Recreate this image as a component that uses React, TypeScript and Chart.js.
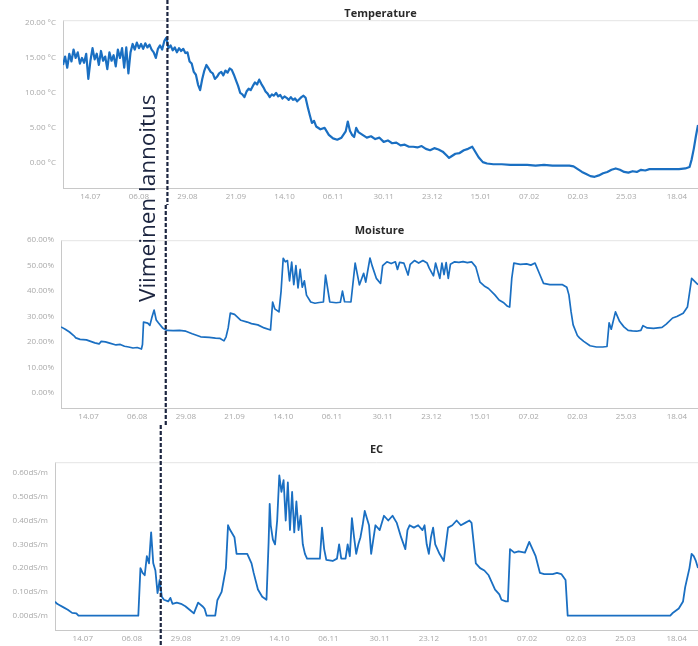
import React, { useEffect, useRef } from 'react';
import { Chart, registerables } from 'chart.js';

Chart.register(...registerables);

// x axis: days since 01.07
const tickDays = [13, 36, 59, 82, 105, 128, 152, 175, 198, 221, 244, 267, 291];
const tickLabels = ['14.07', '06.08', '29.08', '21.09', '14.10', '06.11', '30.11', '23.12', '15.01', '07.02', '02.03', '25.03', '18.04'];
const dayMin = 0;
const dayMax = 301;

const markerDay = 49.5;
const markerLabel = 'Viimeinen lannoitus';

const tempTicks = [0, 5, 10, 15, 20];
const moistureTicks = [0, 10, 20, 30, 40, 50, 60];
const ecTicks = [0, 0.1, 0.2, 0.3, 0.4, 0.5, 0.6];

const tempDays = [
  0, 1, 2, 3, 4, 5, 6, 7, 8, 9,
  10, 11, 12, 13, 14, 15, 16, 17, 18, 19,
  20, 21, 22, 23, 24, 25, 26, 27, 28, 29,
  30, 31, 32, 33, 34, 35, 36, 37, 38, 39,
  40, 41, 42, 43, 44, 45, 46, 47, 48, 49,
  50, 51, 52, 53, 54, 55, 56, 57, 58, 59,
  60, 61, 62, 63, 64, 65, 66, 67, 68, 69,
  70, 71, 72, 73, 74, 75, 76, 77, 78, 79,
  80, 81, 82, 83, 84, 85, 86, 87, 88, 89,
  90, 91, 92, 93, 94, 95, 96, 97, 98, 99,
  100, 101, 102, 103, 104, 105, 106, 107, 108, 109,
  110, 111, 112, 113, 114, 115, 116, 117, 118, 119,
  120, 122, 124, 126, 128, 130, 132, 134, 135, 136,
  137, 138, 139, 140, 142, 144, 146, 148, 150, 152,
  154, 156, 158, 160, 162, 164, 166, 168, 170, 172,
  174, 176, 178, 180, 182, 183, 184, 186, 188, 190,
  192, 194, 195, 197, 199, 201, 204, 208, 212, 216,
  220, 224, 228, 232, 236, 240, 242, 244, 246, 248,
  250, 252, 254, 256, 258, 260, 262, 264, 266, 268,
  270, 272, 274, 276, 278, 280, 284, 288, 292, 295,
  297, 298, 299, 300, 301,
];
const tempValues = [
  14.0, 15.2, 13.6, 15.6, 14.5, 16.2, 15.0, 15.8, 14.2, 15.0,
  14.3, 15.6, 12.0, 14.6, 16.4, 14.8, 15.6, 14.0, 16.0, 14.6,
  15.2, 13.4, 15.8, 14.6, 15.4, 13.8, 16.2, 15.0, 16.4, 13.6,
  16.5, 12.8, 15.8, 17.0, 16.2, 17.2, 16.4, 17.0, 16.3, 17.1,
  16.5, 16.9, 16.2, 15.8, 15.0, 16.3, 16.8, 16.2, 17.4, 17.9,
  16.4, 16.8, 16.1, 16.5, 15.8, 16.4, 16.0, 16.3, 15.7, 15.8,
  14.5, 14.2, 13.0, 12.6, 11.2, 10.4, 12.0, 13.2, 14.0, 13.5,
  13.0, 12.8, 12.0, 12.3, 12.8, 13.0, 12.5, 13.2, 12.9, 13.5,
  13.3, 12.6, 11.8, 11.0, 10.0, 9.8, 9.4, 10.2, 10.6, 10.4,
  11.0, 11.5, 11.2, 11.9, 11.3, 10.8, 10.2, 9.9, 9.4, 9.8,
  9.6, 10.0, 9.5, 9.7, 9.2, 9.5, 9.3, 9.0, 9.4, 9.0,
  9.2, 8.8, 9.1, 9.4, 9.6, 9.3, 8.0, 6.8, 5.7, 6.0,
  5.2, 4.8, 5.0, 4.0, 3.5, 3.3, 3.6, 4.5, 5.9, 4.6,
  4.0, 3.7, 5.0, 4.4, 4.0, 3.6, 3.8, 3.4, 3.6, 3.0,
  3.2, 2.8, 2.9, 2.5, 2.6, 2.3, 2.3, 2.2, 2.4, 2.0,
  1.8, 2.1, 1.9, 1.6, 1.0, 0.7, 0.9, 1.3, 1.4, 1.8,
  2.0, 2.3, 1.8, 0.8, 0.1, -0.1, -0.2, -0.2, -0.3, -0.3,
  -0.3, -0.4, -0.3, -0.4, -0.4, -0.4, -0.5, -0.9, -1.3, -1.6,
  -1.9, -2.0, -1.8, -1.5, -1.3, -1.0, -0.8, -1.0, -1.3, -1.4,
  -1.2, -1.3, -1.0, -1.1, -0.9, -0.9, -0.9, -0.9, -0.9, -0.8,
  -0.6, 0.5, 2.0, 3.8, 5.4,
];

const moistureDays = [
  0, 2, 4, 6, 7, 9, 12, 14, 16, 18,
  19, 21, 23, 26, 28, 30, 32, 34, 36, 38,
  38.5, 39, 41, 42, 43, 44, 45, 46, 48, 50,
  53, 56, 59, 62, 66, 70, 73, 75, 77, 78,
  79, 80, 82, 85, 88, 90, 93, 96, 99, 100,
  101, 103, 104, 105, 106, 107, 108, 109, 110, 111,
  112, 113, 114, 115, 116, 118, 120, 122, 124, 125,
  126, 127, 130, 132, 133, 134, 137, 139, 141, 143,
  144, 146, 147, 149, 151, 152, 154, 156, 158, 159,
  160, 162, 164, 165, 167, 169, 171, 173, 174, 176,
  177, 179, 180, 181, 182, 183, 184, 186, 188, 190,
  192, 194, 196, 198, 200, 202, 205, 207, 209, 211,
  212, 213, 214, 217, 220, 222, 224, 226, 228, 231,
  234, 237, 239, 240, 241, 242, 244, 245, 247, 250,
  253, 256, 258, 259, 260, 262, 264, 266, 268, 270,
  272, 274, 275, 277, 280, 284, 286, 289, 291, 294,
  296, 298, 301,
];
const moistureValues = [
  25.9, 25.0, 23.9, 22.5, 21.6, 21.0, 20.8, 20.2, 19.6, 19.2,
  20.2, 20.0, 19.5, 18.8, 19.0, 18.3, 18.0, 17.6, 17.8, 17.2,
  19.0, 27.8, 27.4, 26.5, 29.8, 32.5, 28.6, 27.5, 25.5, 24.5,
  24.4, 24.5, 24.2, 23.2, 22.0, 21.8, 21.5, 21.4, 20.4, 22.0,
  25.5, 31.3, 30.8, 28.5, 27.8, 27.2, 26.7, 25.5, 24.7, 35.7,
  33.0, 31.8, 40.0, 52.9, 51.5, 52.0, 44.0, 51.4, 42.5, 50.0,
  41.2, 48.5, 41.5, 44.0, 38.4, 35.7, 35.2, 35.5, 35.7, 46.3,
  41.0, 35.7, 35.4, 35.6, 40.0, 35.8, 35.7, 51.0, 42.4, 47.0,
  43.5, 53.0, 50.0, 45.0, 43.0, 50.0, 51.5, 50.8, 51.5, 48.5,
  51.3, 51.0, 46.3, 50.5, 52.0, 51.0, 52.0, 51.0, 49.0, 46.0,
  51.0, 45.0, 51.0, 46.5, 51.2, 45.0, 50.5, 51.5, 51.3, 51.6,
  51.2, 51.5, 49.5, 43.5, 42.0, 41.0, 38.5, 36.5, 35.5, 34.0,
  33.7, 45.0, 51.0, 50.5, 50.7, 50.2, 51.0, 47.0, 43.0, 42.5,
  42.5, 42.5, 41.5, 38.5, 32.0, 26.7, 22.5, 21.6, 20.2, 18.5,
  18.0, 18.0, 18.2, 27.5, 25.0, 31.8, 28.0, 25.9, 24.5, 24.3,
  24.2, 24.5, 26.4, 25.5, 25.3, 25.7, 27.0, 29.4, 30.0, 31.3,
  33.7, 45.0, 42.5,
];

const ecDays = [
  0, 1, 2, 4, 6, 8, 10, 11, 39, 40,
  41, 42, 43, 44, 45, 46, 47, 48, 49, 50,
  51, 53, 54, 55, 57, 59, 61, 63, 65, 67,
  69, 70, 71, 75, 76, 78, 79, 80, 81, 82,
  84, 85, 90, 92, 93, 95, 97, 99, 100, 100.5,
  101, 102, 103, 104, 105, 106, 107, 108, 109, 110,
  111, 112, 113, 114, 115, 116, 117, 118, 121, 124,
  125, 126, 127, 130, 132, 133, 134, 136, 137, 138,
  139, 140, 141, 142, 143, 144, 145, 146, 147, 148,
  149, 150, 152, 154, 156, 158, 160, 162, 164, 165,
  166, 168, 170, 172, 173, 174, 175, 176, 177, 178,
  180, 182, 183, 184, 186, 188, 190, 192, 194, 195,
  197, 199, 201, 203, 205, 206, 208, 209, 211, 212,
  213, 215, 217, 220, 222, 223, 225, 227, 229, 233,
  235, 237, 239, 240, 288, 289, 292, 294, 295, 297,
  298, 299, 300, 301,
];
const ecValues = [
  0.059, 0.05, 0.045, 0.035, 0.025, 0.012, 0.01, 0, 0, 0.2,
  0.18, 0.17, 0.25, 0.22, 0.35, 0.22, 0.19, 0.095, 0.15, 0.08,
  0.067, 0.06, 0.075, 0.05, 0.055, 0.05, 0.04, 0.025, 0.01, 0.055,
  0.04, 0.03, 0, 0, 0.065, 0.1, 0.15, 0.2, 0.38, 0.36,
  0.33, 0.26, 0.26, 0.22, 0.18, 0.11, 0.08, 0.067, 0.31, 0.47,
  0.38, 0.32, 0.3, 0.4, 0.59, 0.52, 0.57, 0.4, 0.56, 0.36,
  0.52, 0.35, 0.48, 0.36, 0.42, 0.3, 0.26, 0.24, 0.24, 0.24,
  0.37, 0.28, 0.235, 0.23, 0.24, 0.3, 0.24, 0.24, 0.3, 0.25,
  0.41, 0.33, 0.26, 0.3, 0.33, 0.38, 0.44, 0.41, 0.38, 0.26,
  0.32, 0.38, 0.36, 0.42, 0.4, 0.42, 0.39, 0.33, 0.28, 0.36,
  0.38, 0.37, 0.38, 0.36, 0.38, 0.3, 0.26, 0.33, 0.37, 0.3,
  0.26, 0.23, 0.3, 0.37, 0.38, 0.4, 0.38, 0.39, 0.4, 0.39,
  0.22, 0.2, 0.19, 0.17, 0.13, 0.11, 0.09, 0.067, 0.06, 0.06,
  0.28, 0.265, 0.27, 0.265, 0.31, 0.29, 0.25, 0.18, 0.175, 0.175,
  0.18, 0.175, 0.15, 0, 0, 0.01, 0.03, 0.06, 0.12, 0.2,
  0.26, 0.25, 0.23, 0.2,
];

const LINE_COLOR = '#1a6fc2';
const TICK_COLOR = '#a9a9a9';
const AXIS_COLOR = '#c8c8c8';
const MARKER_COLOR = '#1c2540';
const FONT = "'Open Sans', 'DejaVu Sans', sans-serif";

type Panel = {
  title: string;
  days: number[];
  values: number[];
  yTicks: number[];
  yMin: number;
  yMax: number;
  unit: string;
  axisWidth: number;
  height: number;
  titleTop: number;
  titleBottom: number;
  xAxisHeight: number;
  lineWidth: number;
};

const panels: Panel[] = [
  { title: 'Temperature', days: tempDays, values: tempValues, yTicks: tempTicks, yMin: -3.6, yMax: 20.4, unit: ' °C', axisWidth: 63, height: 205, titleTop: 7, titleBottom: 0, xAxisHeight: 17, lineWidth: 2.2 },
  { title: 'Moisture', days: moistureDays, values: moistureValues, yTicks: moistureTicks, yMin: -6, yMax: 60, unit: '%', axisWidth: 61, height: 220, titleTop: 19, titleBottom: 3, xAxisHeight: 17, lineWidth: 1.7 },
  { title: 'EC', days: ecDays, values: ecValues, yTicks: ecTicks, yMin: -0.06, yMax: 0.645, unit: 'dS/m', axisWidth: 55, height: 221, titleTop: 18, titleBottom: 6, xAxisHeight: 16, lineWidth: 1.8 },
];

const markerPlugin = {
  id: 'marker',
  afterDraw(chart: any) {
    const x = chart.scales.x.getPixelForValue(markerDay);
    const ctx = chart.ctx;
    ctx.save();
    ctx.strokeStyle = MARKER_COLOR;
    ctx.lineWidth = 2.2;
    ctx.setLineDash([4, 2]);
    ctx.beginPath();
    ctx.moveTo(x, 0);
    ctx.lineTo(x, chart.height);
    ctx.stroke();
    ctx.restore();
  },
};

const framePlugin = {
  id: 'frameTop',
  beforeDatasetsDraw(chart: any) {
    const { left, right, top } = chart.chartArea;
    const ctx = chart.ctx;
    ctx.save();
    ctx.strokeStyle = '#e4e4e4';
    ctx.lineWidth = 1;
    ctx.beginPath();
    ctx.moveTo(left, top + 0.5);
    ctx.lineTo(right, top + 0.5);
    ctx.stroke();
    ctx.restore();
  },
};

function makeConfig(p: Panel): any {
  return {
    type: 'line',
    data: {
      datasets: [
        {
          label: p.title,
          data: p.days.map((d, i) => ({ x: d, y: p.values[i] })),
          borderColor: LINE_COLOR,
          borderWidth: p.lineWidth,
          borderJoinStyle: 'round',
          pointRadius: 0,
          tension: 0,
          fill: false,
        },
      ],
    },
    options: {
      animation: false,
      responsive: false,
      layout: { padding: 0 },
      plugins: {
        legend: { display: false },
        tooltip: { enabled: false },
        title: {
          display: true,
          text: p.title,
          fullSize: false,
          color: '#2a2a2a',
          font: { family: FONT, size: 11, weight: 'bold' },
          padding: { top: p.titleTop, bottom: p.titleBottom },
        },
      },
      scales: {
        x: {
          type: 'linear',
          min: dayMin,
          max: dayMax,
          afterBuildTicks: (s: any) => {
            s.ticks = tickDays.map((v) => ({ value: v }));
          },
          afterFit: (s: any) => {
            s.height = p.xAxisHeight;
          },
          ticks: {
            autoSkip: false,
            maxRotation: 0,
            padding: 4,
            color: TICK_COLOR,
            font: { family: FONT, size: 8 },
            callback: (v: number) => {
              const i = tickDays.indexOf(v);
              return i >= 0 ? tickLabels[i] : '';
            },
          },
          grid: { display: true, drawOnChartArea: false, drawTicks: false, color: AXIS_COLOR },
          border: { display: true, color: AXIS_COLOR, width: 1 },
        },
        y: {
          type: 'linear',
          min: p.yMin,
          max: p.yMax,
          afterBuildTicks: (s: any) => {
            s.ticks = p.yTicks.map((v) => ({ value: v }));
          },
          afterFit: (s: any) => {
            s.width = p.axisWidth;
          },
          ticks: {
            padding: 7,
            color: TICK_COLOR,
            font: { family: FONT, size: 8 },
            callback: (v: number) => v.toFixed(2) + p.unit,
          },
          grid: { display: true, drawOnChartArea: false, drawTicks: false, color: AXIS_COLOR },
          border: { display: true, color: AXIS_COLOR, width: 1 },
        },
      },
    },
    plugins: [framePlugin, markerPlugin],
  };
}

function PanelChart({ panel, top }: { panel: Panel; top: number }) {
  const ref = useRef<HTMLCanvasElement | null>(null);
  useEffect(() => {
    if (!ref.current) return;
    const chart = new Chart(ref.current, makeConfig(panel));
    return () => chart.destroy();
  }, [panel]);
  return (
    <div style={{ position: 'absolute', left: 0, top, width: 698, height: panel.height }}>
      <canvas ref={ref} width={698} height={panel.height} style={{ display: 'block', width: 698, height: panel.height }} />
    </div>
  );
}

export default function App() {
  let offset = 0;
  const tops = panels.map((p) => {
    const t = offset;
    offset += p.height;
    return t;
  });
  return (
    <div style={{ position: 'absolute', left: 0, top: 0, width: 698, height: 646, background: '#ffffff', overflow: 'hidden' }}>
      {panels.map((p, i) => (
        <PanelChart key={p.title} panel={p} top={tops[i]} />
      ))}
      <div
        style={{
          position: 'absolute',
          left: 133,
          top: 93,
          width: 27,
          height: 210,
          writingMode: 'vertical-rl',
          transform: 'rotate(180deg)',
          fontFamily: FONT,
          fontSize: 22.5,
          lineHeight: '27px',
          color: '#1c2540',
          whiteSpace: 'nowrap',
          textAlign: 'center',
        }}
      >
        {markerLabel}
      </div>
    </div>
  );
}
